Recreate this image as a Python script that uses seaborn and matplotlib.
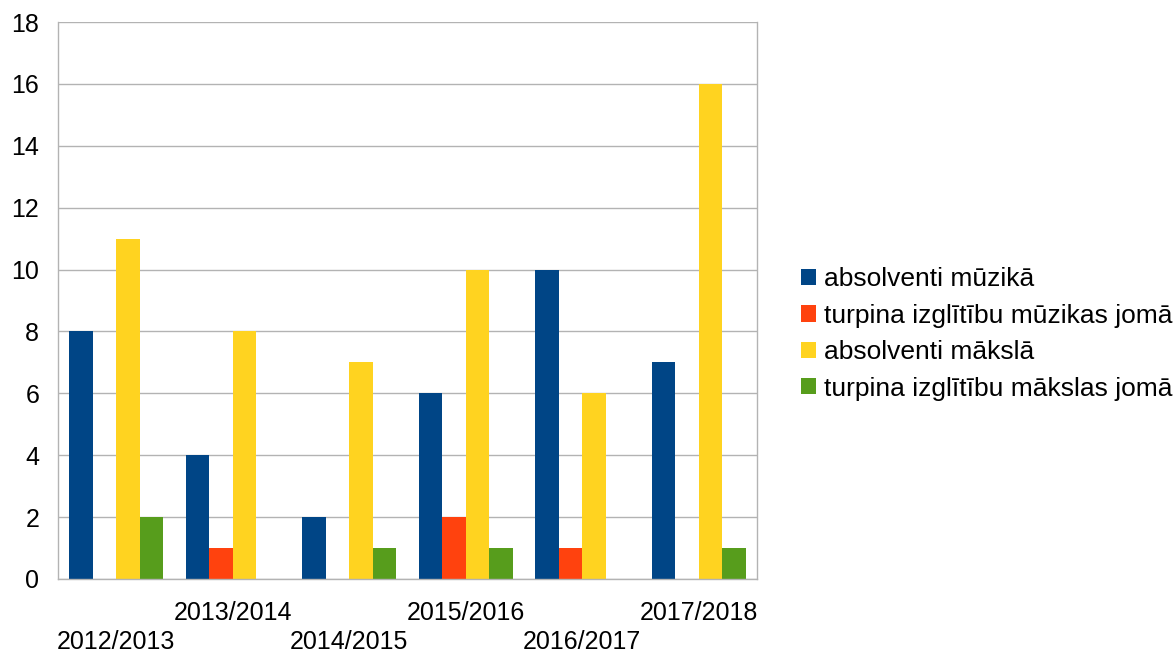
import matplotlib
matplotlib.use("Agg")
import matplotlib.pyplot as plt
import seaborn as sns
import pandas as pd

# Data
years = ['2012/2013', '2013/2014', '2014/2015', '2015/2016', '2016/2017', '2017/2018']
series = ['absolventi mūzikā', 'turpina izglītību mūzikas jomā',
          'absolventi mākslā', 'turpina izglītību mākslas jomā']
abs_muzika = [8, 4, 2, 6, 10, 7]
turp_muzika = [0, 1, 0, 2, 1, 0]
abs_maksla = [11, 8, 7, 10, 6, 16]
turp_maksla = [2, 0, 1, 1, 0, 1]
colors = ['#004586', '#ff420e', '#ffd320', '#579d1c']

rows = []
for name, vals in zip(series, [abs_muzika, turp_muzika, abs_maksla, turp_maksla]):
    for y, v in zip(years, vals):
        rows.append({'Year': y, 'Series': name, 'Value': v})
df = pd.DataFrame(rows)

sns.set_style("white")
plt.rcParams['font.family'] = ['Liberation Sans', 'DejaVu Sans']
plt.rcParams['text.color'] = 'black'
plt.rcParams['xtick.labelcolor'] = 'black'
plt.rcParams['ytick.labelcolor'] = 'black'

fig = plt.figure(figsize=(11.75, 6.55), dpi=100)
ax = fig.add_axes([58 / 1175, 76 / 655, 699 / 1175, 557 / 655])

sns.barplot(data=df, x='Year', y='Value', hue='Series', hue_order=series,
            palette=colors, saturation=1, width=0.81, ax=ax, linewidth=0,
            order=years)

grid_col = '#b3b3b3'
ax.set_ylim(0, 18)
ax.set_xlim(-0.5, len(years) - 0.5)
ax.set_yticks(range(0, 19, 2))
ax.yaxis.grid(True, color=grid_col, linewidth=1)
ax.set_axisbelow(True)
ax.set_xlabel('')
ax.set_ylabel('')
for side in ['left', 'right', 'bottom']:
    ax.spines[side].set_color(grid_col)
    ax.spines[side].set_linewidth(1)
ax.spines['top'].set_visible(False)

# major ticks at category boundaries, labels on minor ticks (staggered)
ax.set_xticks([i - 0.5 for i in range(len(years) + 1)])
ax.set_xticklabels([])
ax.tick_params(axis='x', which='major', length=8, color=grid_col, width=1)
ax.set_xticks(range(len(years)), minor=True)
ax.set_xticklabels([('\n' + y) if i % 2 == 0 else y for i, y in enumerate(years)],
                   minor=True, fontsize=18, linespacing=1.25)
ax.tick_params(axis='x', which='minor', length=0, pad=16)
ax.tick_params(axis='y', length=8.5, color=grid_col, width=1, labelsize=18, pad=5)

handles, labels = ax.get_legend_handles_labels()
ax.get_legend().remove()
fig.legend(handles, labels, loc='center left',
           bbox_to_anchor=(790 / 1175, (655 - 334) / 655),
           frameon=False, fontsize=19, handlelength=0.58, handleheight=0.58,
           handletextpad=0.3, labelspacing=0.47, borderaxespad=0)

fig.savefig('out.png', dpi=100)
